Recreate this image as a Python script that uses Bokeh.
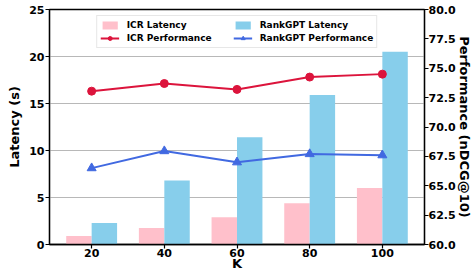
from bokeh.plotting import figure
from bokeh.models import (Range1d, LinearAxis, FixedTicker, PrintfTickFormatter,
                          Legend, LegendItem, ColumnDataSource)
from bokeh.embed import file_html
from bokeh.resources import INLINE

k_labels = ["20", "40", "60", "80", "100"]
icr_latency = [0.9, 1.75, 2.9, 4.4, 6.0]
rankgpt_latency = [2.3, 6.8, 11.4, 15.9, 20.5]
icr_perf = [73.05, 73.7, 73.2, 74.25, 74.5]
rankgpt_perf = [66.5, 67.95, 67.0, 67.7, 67.6]

BAR_W = 0.35
xs = list(range(len(k_labels)))
src = ColumnDataSource(dict(
    x=xs,
    x_icr=[i - BAR_W / 2 for i in xs],
    x_rg=[i + BAR_W / 2 for i in xs],
    icr_lat=icr_latency, rg_lat=rankgpt_latency,
    icr_perf=icr_perf, rg_perf=rankgpt_perf,
))

FONT = "DejaVu Sans"

p = figure(width=474, height=273, output_backend="svg", toolbar_location=None,
           x_range=Range1d(-0.58, 4.58), y_range=Range1d(0, 25),
           min_border_left=49, min_border_right=50, min_border_top=9, min_border_bottom=26,
           y_axis_location=None, x_axis_location=None)
p.extra_y_ranges = {"perf": Range1d(60, 80)}

p.outline_line_color = "black"
p.outline_line_width = 1.3
p.xgrid.visible = False
p.ygrid.ticker = FixedTicker(ticks=[5, 10, 15, 20])
p.ygrid.grid_line_color = "#b8b8b8"
p.ygrid.grid_line_width = 1

def style_axis(ax):
    ax.axis_line_color = "black"
    ax.axis_line_width = 1.3
    ax.major_tick_in = 0
    ax.major_tick_out = 4
    ax.major_tick_line_width = 1.2
    ax.minor_tick_line_color = None
    ax.major_label_text_font = FONT
    ax.major_label_text_font_style = "bold"
    ax.major_label_text_font_size = "11px"
    ax.major_label_text_color = "black"
    ax.axis_label_text_font = FONT
    ax.axis_label_text_font_style = "bold"
    ax.axis_label_text_font_size = "13px"
    ax.axis_label_text_color = "black"
    ax.major_label_standoff = 1

xaxis = LinearAxis(ticker=FixedTicker(ticks=xs),
                   major_label_overrides={i: k for i, k in zip(xs, k_labels)},
                   axis_label="K")
style_axis(xaxis)
xaxis.major_label_standoff = 0
xaxis.axis_label_standoff = -4
p.add_layout(xaxis, "below")

yaxis = LinearAxis(ticker=FixedTicker(ticks=[0, 5, 10, 15, 20, 25]), axis_label="Latency (s)")
style_axis(yaxis)
yaxis.axis_label_standoff = 4
p.add_layout(yaxis, "left")

raxis = LinearAxis(y_range_name="perf",
                   ticker=FixedTicker(ticks=[60, 62.5, 65, 67.5, 70, 72.5, 75, 77.5, 80]),
                   formatter=PrintfTickFormatter(format="%.1f"),
                   axis_label="Performance (nDCG@10)")
style_axis(raxis)
raxis.major_label_standoff = 0
raxis.axis_label_standoff = -2
p.add_layout(raxis, "right")

b1 = p.vbar(x="x_icr", top="icr_lat", width=BAR_W, source=src,
            fill_color="#FFC0CB", line_color=None)
b2 = p.vbar(x="x_rg", top="rg_lat", width=BAR_W, source=src,
            fill_color="#87CEEB", line_color=None)

l1 = p.line(x="x", y="icr_perf", source=src, y_range_name="perf",
            line_color="#DC143C", line_width=2)
m1 = p.scatter(x="x", y="icr_perf", source=src, y_range_name="perf",
               marker="circle", size=8, fill_color="#DC143C", line_color="#DC143C")
l2 = p.line(x="x", y="rg_perf", source=src, y_range_name="perf",
            line_color="#4169E1", line_width=2)
m2 = p.scatter(x="x", y="rg_perf", source=src, y_range_name="perf",
               marker="triangle", size=9, fill_color="#4169E1", line_color="#4169E1")

legend = Legend(items=[
    LegendItem(label="ICR Latency", renderers=[b1]),
    LegendItem(label="RankGPT Latency", renderers=[b2]),
    LegendItem(label="ICR Performance", renderers=[l1, m1]),
    LegendItem(label="RankGPT Performance", renderers=[l2, m2]),
], location="top_center", orientation="horizontal", ncols=2)
legend.label_text_font = FONT
legend.label_text_font_style = "bold"
legend.label_text_font_size = "9px"
legend.label_text_color = "black"
legend.label_height = 12
legend.label_width = 105
legend.label_standoff = 8
legend.glyph_height = 10
legend.glyph_width = 19
legend.spacing = 1
legend.padding = 3
legend.margin = 6
legend.border_line_color = "#d0d0d0"
legend.border_line_width = 1
legend.background_fill_alpha = 0.85
p.add_layout(legend, "center")

open("out.html", "w").write(file_html(p, INLINE))
